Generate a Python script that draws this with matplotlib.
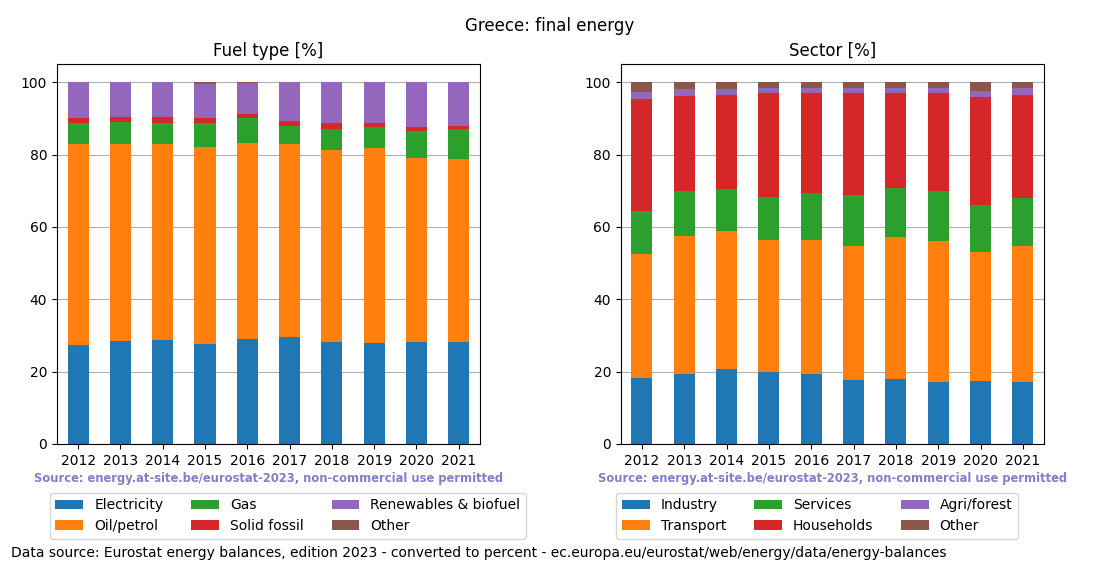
import numpy as np
import matplotlib
matplotlib.use('Agg')
import matplotlib.pyplot as plt

years = [2012, 2013, 2014, 2015, 2016, 2017, 2018, 2019, 2020, 2021]

# fuel type shares [%]
fuel_names = ['Electricity', 'Oil/petrol', 'Gas', 'Solid fossil', 'Renewables & biofuel', 'Other']
electricity = [27.5, 28.6, 28.8, 27.7, 29.1, 29.7, 28.3, 28.0, 28.3, 28.3]
oil = [55.5, 54.2, 54.2, 54.5, 54.2, 53.1, 53.1, 53.7, 50.9, 50.6]
gas = [5.8, 6.3, 5.8, 6.5, 6.7, 5.2, 5.6, 5.9, 7.4, 8.1]
solid = [1.4, 1.4, 1.7, 1.3, 1.1, 1.4, 1.8, 1.2, 1.1, 0.9]
renewables = [9.8, 9.5, 9.5, 9.4, 8.6, 10.6, 11.2, 11.2, 12.3, 12.1]
fuel_other = [0.0, 0.0, 0.0, 0.6, 0.3, 0.0, 0.0, 0.0, 0.0, 0.0]

# sector shares [%]
sector_names = ['Industry', 'Transport', 'Services', 'Households', 'Agri/forest', 'Other']
industry = [18.3, 19.4, 20.8, 19.9, 19.4, 17.8, 18.1, 17.0, 17.5, 17.2]
transport = [34.3, 38.2, 38.2, 36.6, 37.1, 36.8, 39.0, 39.2, 35.7, 37.4]
services = [11.8, 12.4, 11.6, 11.9, 13.0, 14.1, 13.8, 13.8, 13.0, 13.5]
households = [31.1, 26.3, 26.0, 28.5, 27.4, 28.2, 26.0, 26.9, 29.6, 28.5]
agri = [1.9, 1.9, 1.6, 1.6, 1.6, 1.6, 1.6, 1.6, 1.9, 1.9]
sector_other = [2.6, 1.8, 1.8, 1.5, 1.5, 1.5, 1.5, 1.5, 2.3, 1.5]

colors = ['#1f77b4', '#ff7f0e', '#2ca02c', '#d62728', '#9467bd', '#8c564b']
source = 'Source: energy.at-site.be/eurostat-2023, non-commercial use permitted'

fig = plt.figure(figsize=(11, 5.72), dpi=100)
ax1 = fig.add_axes([0.0518, 0.2238, 0.3845, 0.664])
ax2 = fig.add_axes([0.5643, 0.2238, 0.3848, 0.664])


def stacked(ax, series, names, title, legend_x):
    x = np.arange(len(years))
    bottom = np.zeros(len(years))
    for vals, name, col in zip(series, names, colors):
        ax.bar(x, vals, 0.5, bottom=bottom, color=col, label=name, zorder=2)
        bottom = bottom + np.array(vals)
    ax.set_xticks(x)
    ax.set_xticklabels([str(y) for y in years])
    ax.set_xlim(-0.5, len(years) - 0.5)
    ax.set_ylim(0, 105)
    ax.yaxis.grid(True, color='#b0b0b0', zorder=0)
    ax.set_axisbelow(True)
    ax.set_title(title, fontsize=12)
    ax.text(0.5, -0.09, source, transform=ax.transAxes, ha='center', va='center',
            fontsize=8.3, fontweight='bold', color='#8080c8')
    ax.legend(loc='upper center', bbox_to_anchor=(legend_x, -0.11), ncol=3, fontsize=10)


stacked(ax1, [electricity, oil, gas, solid, renewables, fuel_other], fuel_names, 'Fuel type [%]', 0.546)
stacked(ax2, [industry, transport, services, households, agri, sector_other], sector_names, 'Sector [%]', 0.464)

fig.suptitle('Greece: final energy', fontsize=12, y=0.97)
fig.text(0.01, 0.033, 'Data source: Eurostat energy balances, edition 2023 - converted to percent - '
         'ec.europa.eu/eurostat/web/energy/data/energy-balances', fontsize=10, va='center')

fig.savefig('out.png', dpi=100)
